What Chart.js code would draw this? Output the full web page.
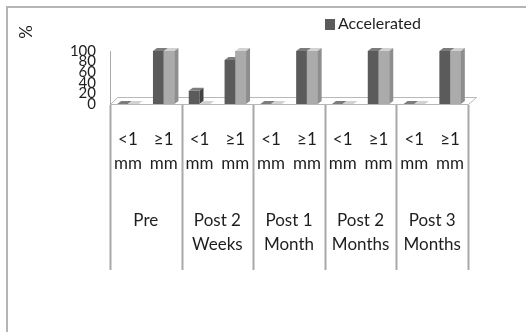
<!DOCTYPE html>
<html>
<head>
<meta charset="utf-8">
<script src="https://cdn.jsdelivr.net/npm/chart.js@4/dist/chart.umd.min.js"></script>
<style>
  html, body { margin: 0; padding: 0; background: #ffffff; }
  #wrap { width: 526px; height: 332px; position: relative; }
</style>
</head>
<body>
<div id="wrap"><canvas id="chart" width="526" height="332"></canvas></div>
<script>
// Gap size categories, repeated for every time point
const subLabels = [
  ['<1', 'mm'], ['≥1', 'mm'],
  ['<1', 'mm'], ['≥1', 'mm'],
  ['<1', 'mm'], ['≥1', 'mm'],
  ['<1', 'mm'], ['≥1', 'mm'],
  ['<1', 'mm'], ['≥1', 'mm']
];
// Time points
const groupLabels = [
  'Pre',
  ['Post 2', 'Weeks'],
  ['Post 1', 'Month'],
  ['Post 2', 'Months'],
  ['Post 3', 'Months']
];
// Percentages per category
const acceleratedValues = [0, 100, 25, 83, 0, 100, 0, 100, 0, 100];
const secondValues      = [0, 100, 0, 100, 0, 100, 0, 100, 0, 100];
const yTickValues = [0, 20, 40, 60, 80, 100];

const FONT = 'Lato, "Open Sans", sans-serif';
const TEXT = '#1e1e1e';

// Shading used for the extruded faces of each series
const faceColors = [
  { top: '#7c7c7c', side: '#424242' },
  { top: '#d2d2d2', side: '#8e8e8e' }
];
const DEPTH_X = 4, DEPTH_Y = 3;

function drawFaces(ctx, meta, fc) {
  meta.data.forEach(el => {
    const { x, y, base, width } = el.getProps(['x', 'y', 'base', 'width'], true);
    const l = x - width / 2, r = x + width / 2;
    // top face
    ctx.fillStyle = fc.top;
    ctx.beginPath();
    ctx.moveTo(l, y);
    ctx.lineTo(l + DEPTH_X, y - DEPTH_Y);
    ctx.lineTo(r + DEPTH_X, y - DEPTH_Y);
    ctx.lineTo(r, y);
    ctx.closePath();
    ctx.fill();
    // side face
    ctx.fillStyle = fc.side;
    ctx.beginPath();
    ctx.moveTo(r, y);
    ctx.lineTo(r + DEPTH_X, y - DEPTH_Y);
    ctx.lineTo(r + DEPTH_X, base - DEPTH_Y);
    ctx.lineTo(r, base);
    ctx.closePath();
    ctx.fill();
  });
}

const decorations = {
  id: 'decorations',
  beforeDraw(chart) {
    const ctx = chart.ctx;
    ctx.save();
    // frame
    ctx.strokeStyle = '#b4b4b4';
    ctx.lineWidth = 2;
    ctx.beginPath();
    ctx.moveTo(526, 7);
    ctx.lineTo(7, 7);
    ctx.lineTo(7, 332);
    ctx.stroke();
    ctx.restore();
  },
  beforeDatasetsDraw(chart) {
    const { ctx, chartArea } = chart;
    const b = chartArea.bottom;
    ctx.save();
    // floor of the plot
    ctx.fillStyle = '#ffffff';
    ctx.strokeStyle = '#b8b8b8';
    ctx.lineWidth = 1;
    ctx.beginPath();
    ctx.moveTo(chartArea.left + 0.5, b + 0.5);
    ctx.lineTo(chartArea.left + 7.5, b - 6.5);
    ctx.lineTo(chartArea.right + 8.5, b - 6.5);
    ctx.lineTo(chartArea.right + 0.5, b + 0.5);
    ctx.closePath();
    ctx.fill();
    ctx.stroke();
    ctx.restore();
  },
  afterDatasetsDraw(chart) {
    const ctx = chart.ctx;
    const m0 = chart.getDatasetMeta(0);
    const m1 = chart.getDatasetMeta(1);
    ctx.save();
    drawFaces(ctx, m0, faceColors[0]);
    // the second series sits in front of the first one's side faces
    m1.data.forEach(el => el.draw(ctx, chart.chartArea));
    drawFaces(ctx, m1, faceColors[1]);
    ctx.restore();
  },
  afterDraw(chart) {
    const { ctx, chartArea } = chart;
    const x2 = chart.scales.x2;
    ctx.save();
    // table lines between time points
    ctx.strokeStyle = '#a8a8a8';
    ctx.lineWidth = 2;
    const n = groupLabels.length;
    for (let i = 0; i <= n; i++) {
      const gx = Math.round(x2.left + (x2.right - x2.left) * i / n) + 0.5;
      ctx.beginPath();
      ctx.moveTo(gx, chartArea.bottom + 1);
      ctx.lineTo(gx, x2.bottom + 1);
      ctx.stroke();
    }
    // axis title
    ctx.fillStyle = TEXT;
    ctx.font = '17px ' + FONT;
    ctx.textAlign = 'center';
    ctx.textBaseline = 'middle';
    ctx.translate(27, 32);
    ctx.rotate(-Math.PI / 2);
    ctx.fillText('%', 0, 0);
    ctx.restore();

    // legend entry for the first series
    const ds = chart.data.datasets[0];
    ctx.save();
    ctx.fillStyle = ds.backgroundColor;
    ctx.fillRect(325, 19, 10, 11);
    ctx.fillStyle = TEXT;
    ctx.font = '16px ' + FONT;
    ctx.textAlign = 'left';
    ctx.textBaseline = 'middle';
    ctx.fillText(ds.label, 338, 24);
    ctx.restore();
  }
};

new Chart(document.getElementById('chart'), {
  type: 'bar',
  data: {
    labels: subLabels,
    datasets: [
      {
        label: 'Accelerated',
        data: acceleratedValues,
        backgroundColor: '#5b5b5b'
      },
      {
        label: '',
        data: secondValues,
        backgroundColor: '#ababab'
      }
    ]
  },
  options: {
    responsive: false,
    animation: false,
    events: [],
    layout: { padding: { left: 70, right: 58, top: 51, bottom: 63 } },
    datasets: {
      bar: { categoryPercentage: 0.6, barPercentage: 1.0 }
    },
    plugins: {
      legend: { display: false },
      tooltip: { enabled: false }
    },
    scales: {
      x: {
        position: 'bottom',
        grid: { display: false, drawTicks: false },
        border: { display: false },
        ticks: {
          autoSkip: false, maxRotation: 0, padding: 24,
          color: TEXT, font: { family: FONT, size: 17, lineHeight: '24px' }
        },
        afterFit(s) { s.height = 72; }
      },
      x2: {
        type: 'category',
        position: 'bottom',
        labels: groupLabels,
        offset: true,
        grid: { display: false, drawTicks: false },
        border: { display: false },
        ticks: {
          autoSkip: false, maxRotation: 0, padding: 33,
          color: TEXT, font: { family: FONT, size: 17, lineHeight: '24px' }
        },
        afterFit(s) { s.height = 93; }
      },
      y: {
        min: 0, max: 100,
        grid: { display: false, drawTicks: false },
        border: { display: true, color: '#a8a8a8', width: 1 },
        afterBuildTicks(s) { s.ticks = yTickValues.map(v => ({ value: v })); },
        ticks: {
          autoSkip: false,
          padding: 14,
          color: TEXT, font: { family: FONT, size: 15 }
        },
        afterFit(s) { s.width = 40; }
      }
    }
  },
  plugins: [decorations]
});
</script>
</body>
</html>
